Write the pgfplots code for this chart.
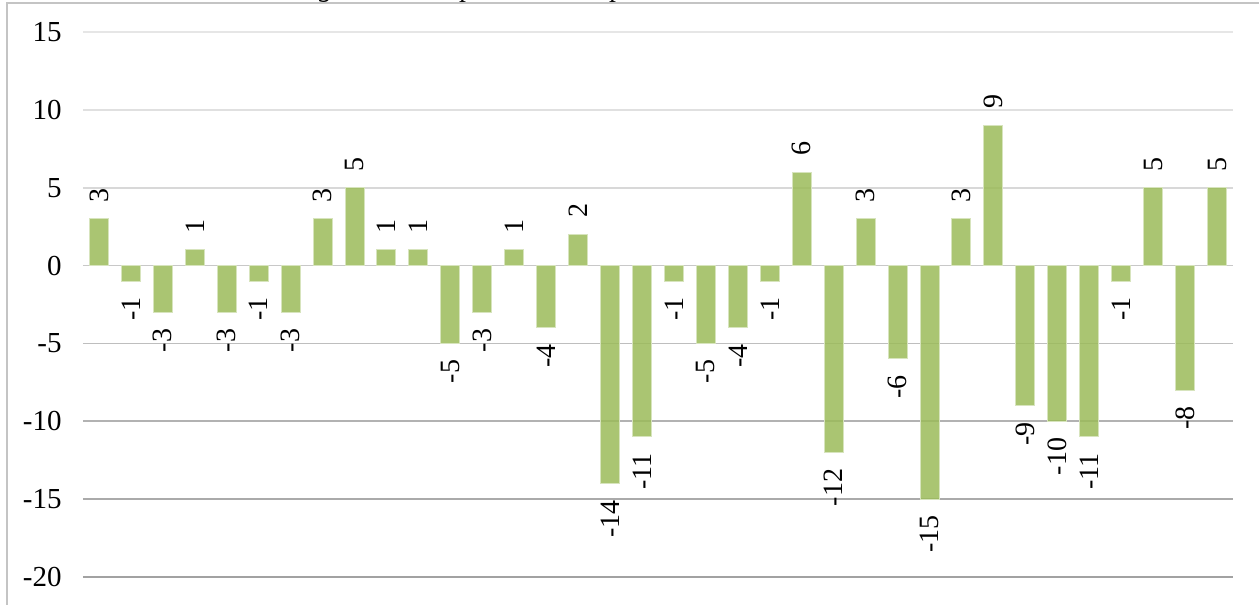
\documentclass[border=0pt]{standalone}
\usepackage{fontspec}
\setmainfont{Liberation Serif}
\usepackage{graphicx}
\usepackage{pgfplots}
\usepackage{pgfplotstable}
\pgfplotsset{compat=1.18}
\pgfkeys{/pgf/number format/assume math mode=true}

\definecolor{barfill}{HTML}{9BBB59}
\definecolor{baredge}{HTML}{D7E4BD}
\definecolor{frame}{HTML}{C4C4C4}

\pgfplotstableread{
x y
0 3
1 -1
2 -3
3 1
4 -3
5 -1
6 -3
7 3
8 5
9 1
10 1
11 -5
12 -3
13 1
14 -4
15 2
16 -14
17 -11
18 -1
19 -5
20 -4
21 -1
22 6
23 -12
24 3
25 -6
26 -15
27 3
28 9
29 -9
30 -10
31 -11
32 -1
33 5
34 -8
35 5
}\datatable

\begin{document}
\begin{tikzpicture}[x=1pt,y=1pt]
\useasboundingbox (0,0) rectangle (629.5,302.5);
% partially visible title (clipped by chart frame)
\begin{scope}
\clip (0,301.4) rectangle (629.5,320);
\node[anchor=base,inner sep=0pt,font=\fontsize{14}{16}\selectfont\itshape] at (163,304) {g};
\node[anchor=base,inner sep=0pt,font=\fontsize{14}{16}\selectfont\itshape] at (234,304) {p};
\node[anchor=base,inner sep=0pt,font=\fontsize{14}{16}\selectfont\itshape] at (309,304) {p};
\end{scope}
\draw[frame, line width=0.9pt] (3.6,-2) -- (3.6,300.9) -- (640,300.9);
\begin{axis}[
  at={(41.5pt,14pt)}, anchor=south west,
  scale only axis, width=575pt, height=272.5pt,
  ybar, bar width=9.5pt,
  xmin=-0.5, xmax=35.5, ymin=-20, ymax=15,
  axis line style={draw=none}, tick style={draw=none},
  xtick=\empty, ytick={-20,-15,...,15},
  clip=false,
  tick label style={font=\fontsize{14.5}{17}\selectfont},
  yticklabel style={anchor=east, inner sep=0pt, xshift=-10.5pt},
  nodes near coords={\rotatebox{90}{\pgfmathprintnumber{\pgfplotspointmeta}}},
  nodes near coords align={vertical},
  every node near coord/.append style={
    font=\fontsize{14}{16}\selectfont, text=black,
    inner ysep=8pt, inner xsep=0pt},
]
\draw[color={rgb,255:red,230;green,230;blue,230}, line width=0.9pt] (axis cs:-0.5,15) -- (axis cs:35.5,15);
\draw[color={rgb,255:red,224;green,224;blue,224}, line width=0.9pt] (axis cs:-0.5,10) -- (axis cs:35.5,10);
\draw[color={rgb,255:red,216;green,216;blue,216}, line width=0.9pt] (axis cs:-0.5,5) -- (axis cs:35.5,5);
\draw[color={rgb,255:red,200;green,200;blue,200}, line width=0.9pt] (axis cs:-0.5,0) -- (axis cs:35.5,0);
\draw[color={rgb,255:red,190;green,190;blue,190}, line width=0.9pt] (axis cs:-0.5,-5) -- (axis cs:35.5,-5);
\draw[color={rgb,255:red,178;green,178;blue,178}, line width=0.9pt] (axis cs:-0.5,-10) -- (axis cs:35.5,-10);
\draw[color={rgb,255:red,170;green,170;blue,170}, line width=0.9pt] (axis cs:-0.5,-15) -- (axis cs:35.5,-15);
\draw[color={rgb,255:red,162;green,162;blue,162}, line width=0.9pt] (axis cs:-0.5,-20) -- (axis cs:35.5,-20);
\addplot[fill=barfill, fill opacity=0.85, draw=baredge, line width=0.5pt, text opacity=1] table[x=x,y=y] {\datatable};
\end{axis}
\end{tikzpicture}
\end{document}
